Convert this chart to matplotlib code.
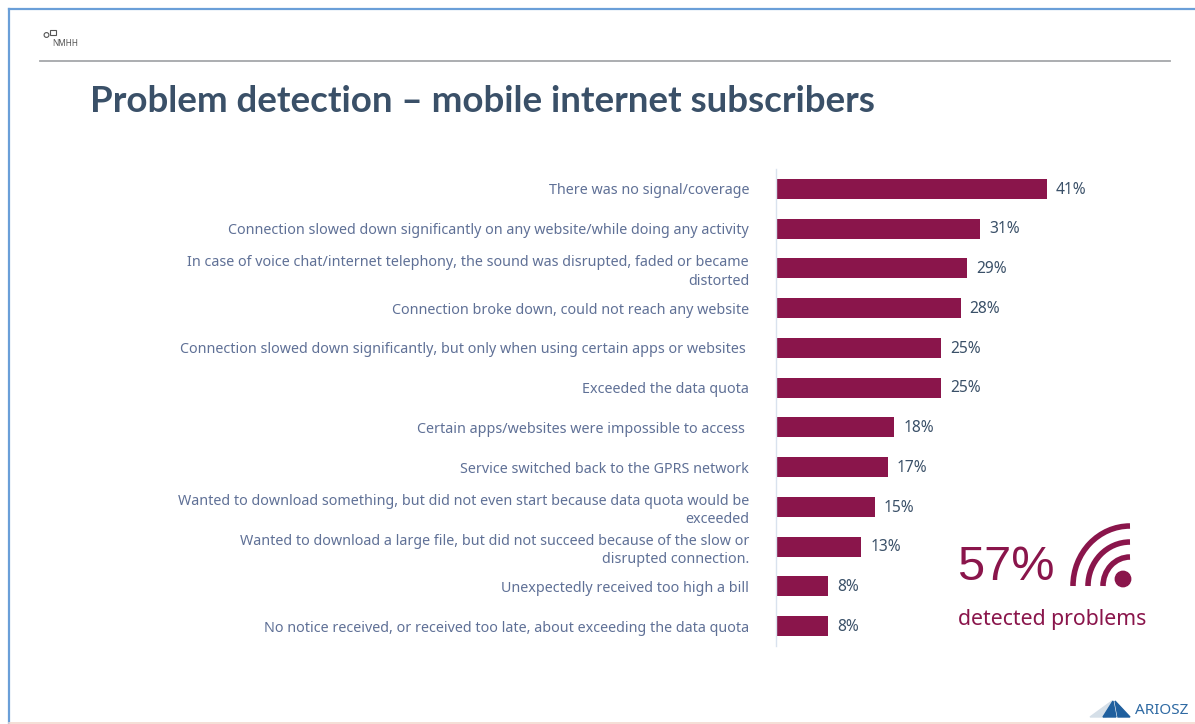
import matplotlib
matplotlib.use("Agg")
import matplotlib.pyplot as plt
from matplotlib.patches import Arc, Circle, Polygon, Rectangle

categories = [
    "There was no signal/coverage",
    "Connection slowed down significantly on any website/while doing any activity",
    "In case of voice chat/internet telephony, the sound was disrupted, faded or became\ndistorted",
    "Connection broke down, could not reach any website",
    "Connection slowed down significantly, but only when using certain apps or websites ",
    "Exceeded the data quota",
    "Certain apps/websites were impossible to access ",
    "Service switched back to the GPRS network",
    "Wanted to download something, but did not even start because data quota would be\nexceeded",
    "Wanted to download a large file, but did not succeed because of the slow or\ndisrupted connection.",
    "Unexpectedly received too high a bill",
    "No notice received, or received too late, about exceeding the data quota",
]
values = [41, 31, 29, 28, 25, 25, 18, 17, 15, 13, 8, 8]

W, H = 1195, 724
BAR = "#8a154b"
SLATE = "#3a5068"
LABEL = "#5f7096"

plt.rcParams["font.family"] = ["Noto Sans", "DejaVu Sans"]
fig = plt.figure(figsize=(W / 100, H / 100), dpi=100, facecolor="white")

# page layer in pixel coordinates, y pointing down
page = fig.add_axes([0, 0, 1, 1])
page.set_xlim(0, W)
page.set_ylim(H, 0)
page.axis("off")

# slide frame and header rule
page.plot([9, 9], [9, H], color="#6a9fd8", lw=1.6)
page.plot([9, W], [9, 9], color="#6a9fd8", lw=1.6)
page.plot([9, W], [723, 723], color="#f3d9cf", lw=1.2)
page.plot([40, 1170], [61, 61], color="#a5a7aa", lw=1.3)

# small NMHH logo
page.add_patch(Circle((46.5, 35), 2.4, fill=False, ec="#555555", lw=0.8))
page.add_patch(Rectangle((50.5, 29.5), 5.5, 5.5, fill=False, ec="#555555", lw=0.8))
page.text(52, 44, "NMHH", fontsize=6, color="#555555", va="center", ha="left")

page.text(90, 101, "Problem detection – mobile internet subscribers", fontsize=26.4,
          color=SLATE, fontweight="bold", family=["Lato"], va="center", ha="left")

# bar chart, one band per category
x0, x1, y0, y1 = 775.5, 1100, 169, 646
ax = fig.add_axes([x0 / W, 1 - y1 / H, (x1 - x0) / W, (y1 - y0) / H])
ax.patch.set_alpha(0)
positions = list(range(len(categories)))
ax.barh(positions, values, height=0.5, color=BAR)
ax.set_xlim(0, (x1 - x0) / 6.61)
ax.set_ylim(len(categories) - 0.5, -0.5)
ax.set_yticks(positions)
ax.set_yticklabels(categories, fontsize=10.3, color=LABEL, linespacing=1.3)
ax.tick_params(axis="y", length=0, pad=19)
ax.set_xticks([])
for side in ["top", "right", "bottom"]:
    ax.spines[side].set_visible(False)
ax.spines["left"].set_color("#d9e2ee")
ax.spines["left"].set_linewidth(1)

for pos, val in zip(positions, values):
    ax.annotate(f"{val}%", (val, pos), xytext=(6.5, -0.5), textcoords="offset points",
                va="center", ha="left", fontsize=11.2, color=SLATE)

# callout with the overall share and a signal icon
page.text(957, 568, "57%", fontsize=35, color=BAR, va="center", ha="left",
          family=["Liberation Sans"])
page.text(958, 619, "detected problems", fontsize=15.3, color=BAR, va="center", ha="left")

cx, cy = 1130, 586
for rx, ry in [(57, 60), (42, 44), (27, 29)]:
    page.add_patch(Arc((cx, cy), 2 * rx, 2 * ry, theta1=180, theta2=270, color=BAR, lw=4))
page.add_patch(Circle((1123, 579), 7.7, color=BAR))

# ARIOSZ logo
page.add_patch(Polygon([[1090, 717], [1112, 701], [1106, 717]], color="#d5dfe8"))
page.add_patch(Polygon([[1103, 717], [1113, 701], [1116, 717]], color="#1f5f9e"))
page.add_patch(Polygon([[1115, 701], [1130, 717], [1118, 717]], color="#1f5f9e"))
page.text(1135, 711, "ARIOSZ", fontsize=11, color="#2f6aa3", va="center", ha="left")

fig.savefig("out.png", dpi=100)
